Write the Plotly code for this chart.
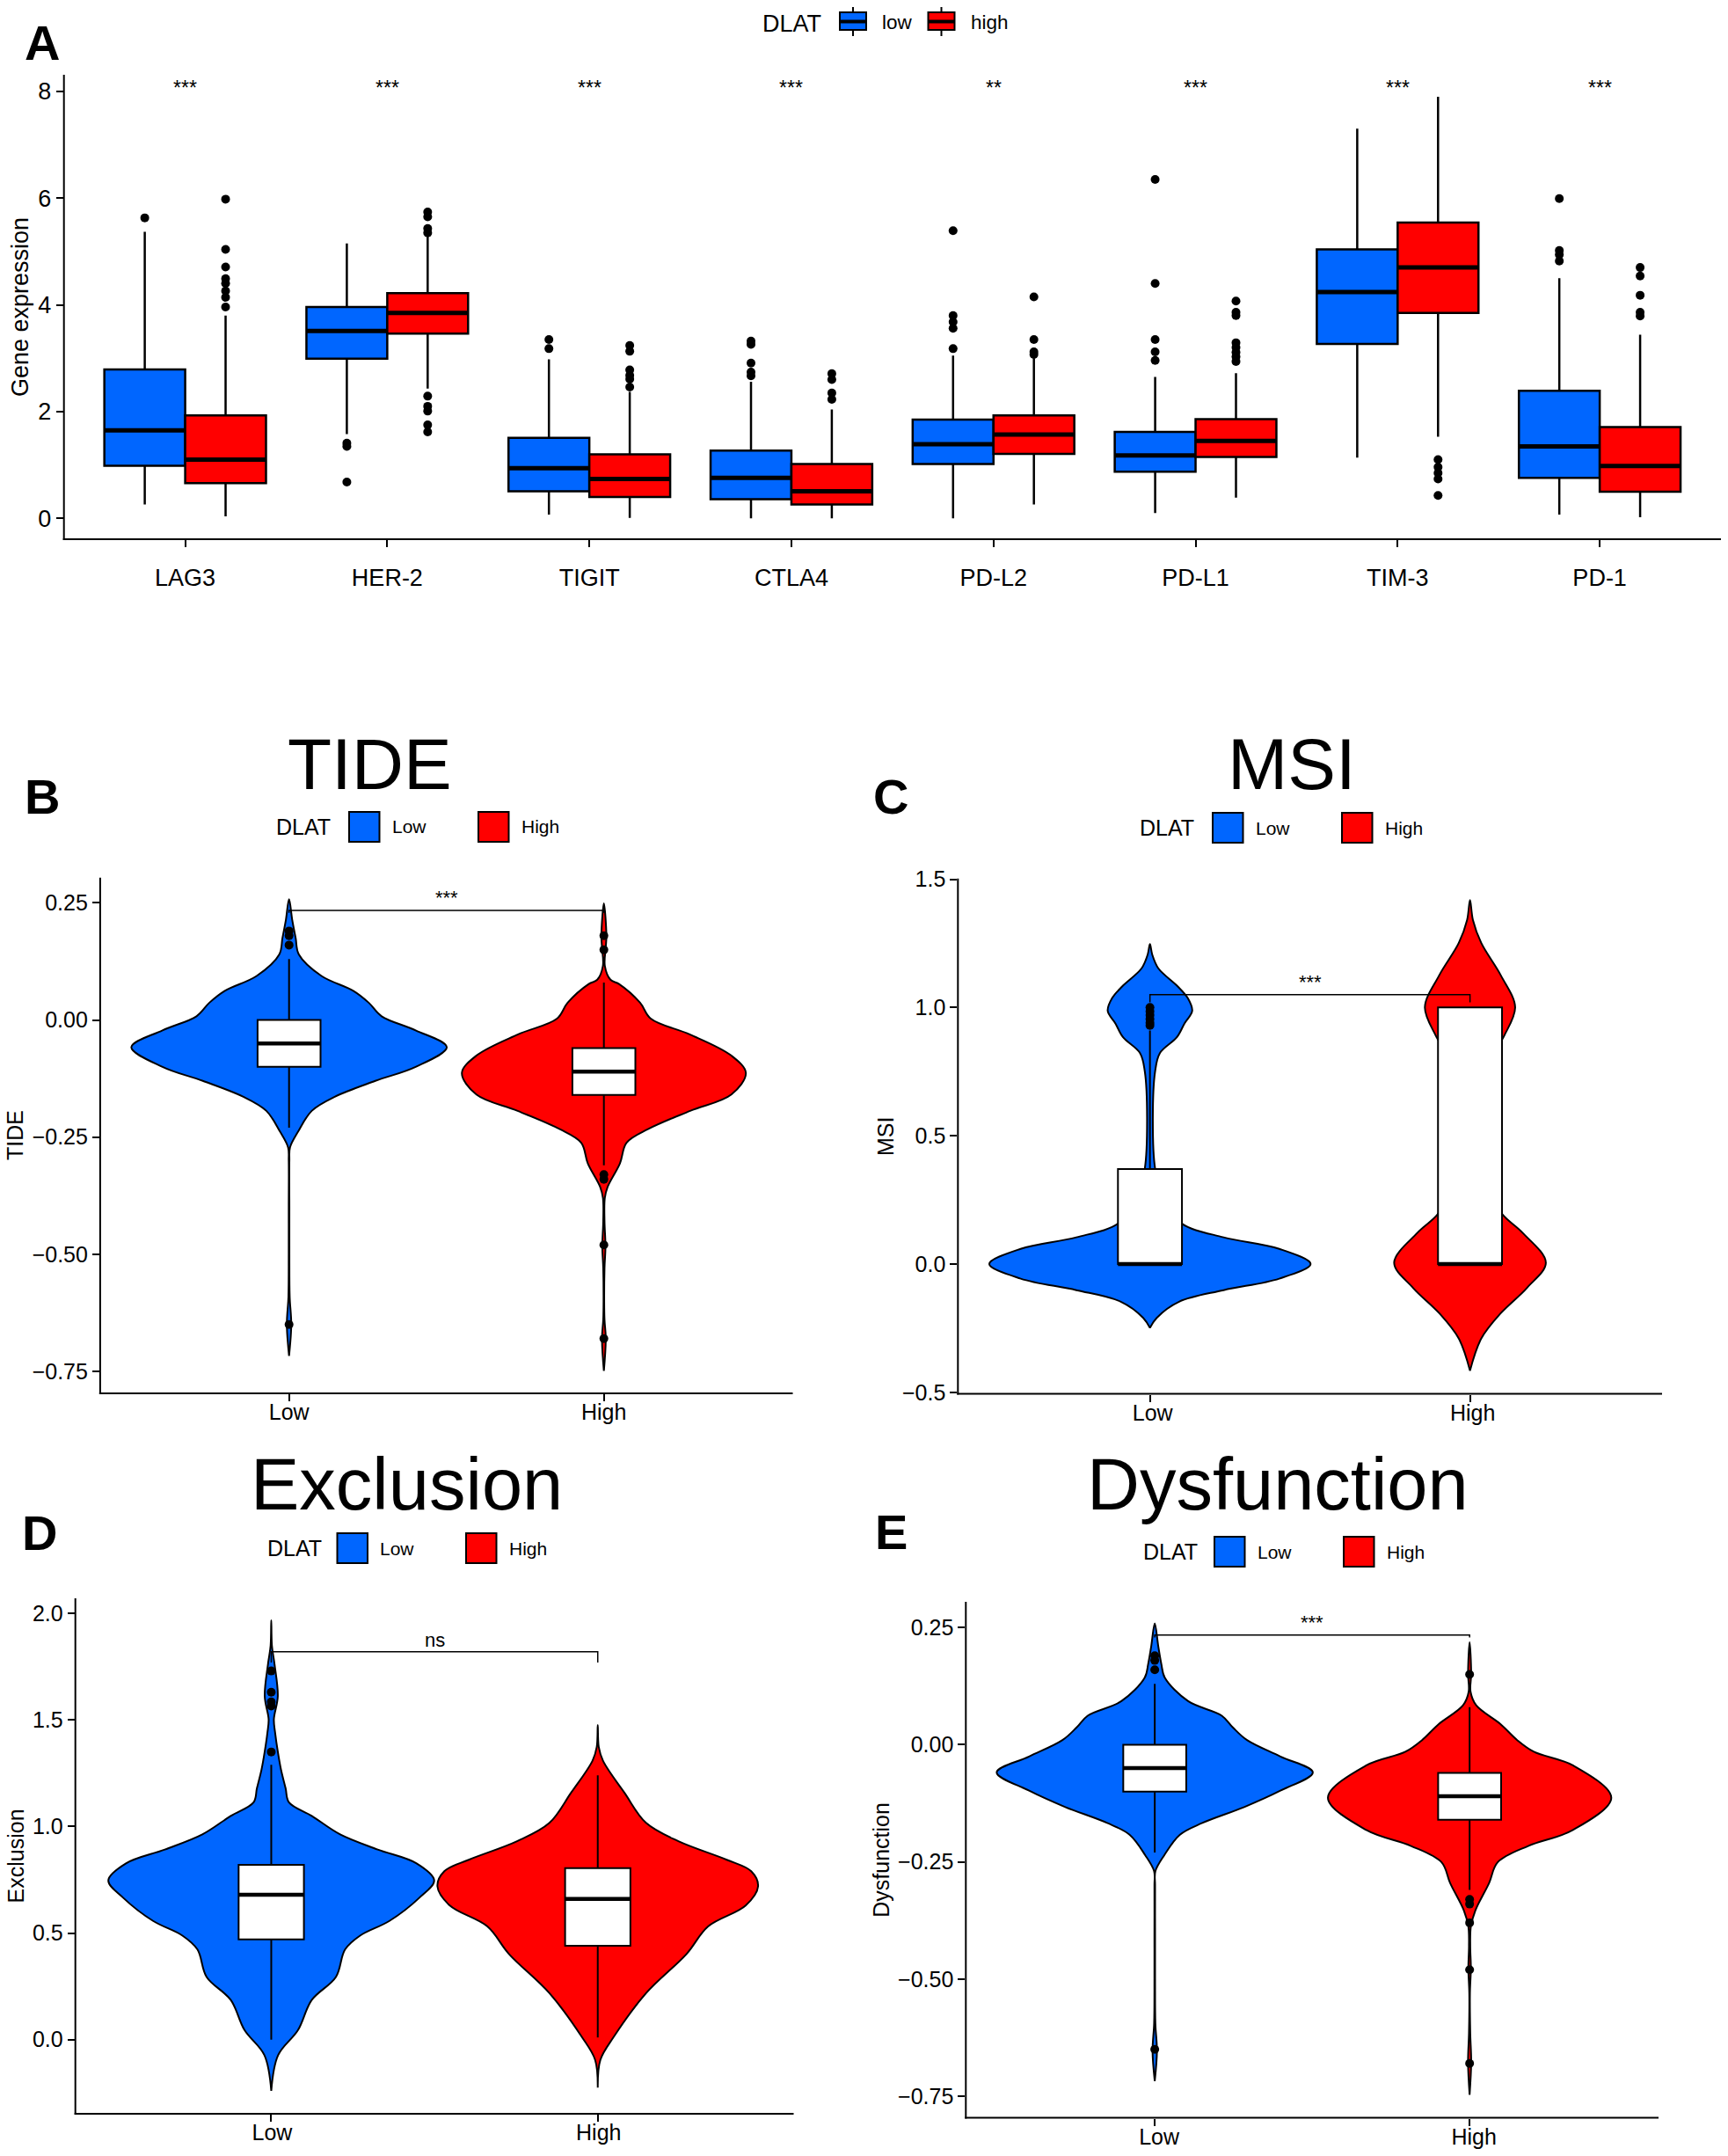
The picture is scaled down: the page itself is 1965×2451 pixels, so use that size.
import plotly.graph_objects as go

WIDTH = 1965
HEIGHT = 2451
BLUE = "#0066FF"
RED = "#FF0000"
FONT = "Liberation Sans"

# ---------------- panel A ----------------
genes = ["LAG3", "HER-2", "TIGIT", "CTLA4", "PD-L2", "PD-L1", "TIM-3", "PD-1"]
gene_stars = ["***", "***", "***", "***", "**", "***", "***", "***"]

low_q1 = [0.985, 2.99, 0.51, 0.36, 1.02, 0.875, 3.27, 0.76]
low_median = [1.65, 3.51, 0.94, 0.76, 1.39, 1.18, 4.24, 1.35]
low_q3 = [2.79, 3.96, 1.51, 1.27, 1.85, 1.62, 5.04, 2.39]
low_lower = [0.26, 1.58, 0.07, 0.0, 0.0, 0.10, 1.14, 0.07]
low_upper = [5.37, 5.15, 2.98, 2.56, 3.05, 2.65, 7.30, 4.50]
low_outliers = [
    [5.63],
    [1.41, 1.35, 0.68],
    [3.35, 3.18],
    [3.32, 3.26, 2.91, 2.74, 2.67],
    [5.39, 3.80, 3.68, 3.56, 3.18],
    [6.35, 4.40, 3.35, 3.12, 2.96],
    [],
    [5.99, 5.02, 4.94, 4.82],
]

high_q1 = [0.66, 3.46, 0.40, 0.26, 1.21, 1.15, 3.85, 0.50]
high_median = [1.10, 3.85, 0.74, 0.51, 1.57, 1.45, 4.70, 0.98]
high_q3 = [1.93, 4.22, 1.20, 1.02, 1.93, 1.86, 5.54, 1.71]
high_lower = [0.04, 2.43, 0.01, 0.0, 0.26, 0.39, 1.53, 0.02]
high_upper = [3.80, 5.29, 2.37, 2.04, 3.00, 2.72, 7.90, 3.44]
high_outliers = [
    [5.98, 5.04, 4.71, 4.49, 4.40, 4.26, 4.14, 3.96],
    [5.74, 5.65, 5.43, 5.35, 2.29, 2.10, 2.01, 1.75, 1.62],
    [3.24, 3.13, 2.78, 2.68, 2.61, 2.46],
    [2.71, 2.60, 2.35, 2.23],
    [4.15, 3.35, 3.12, 3.07],
    [4.07, 3.86, 3.80, 3.29, 3.20, 3.11, 3.03, 2.94],
    [1.10, 0.96, 0.85, 0.74, 0.43],
    [4.70, 4.54, 4.18, 3.86, 3.79],
]

# ---------------- violin outlines: level, half width ----------------
tide_low_y = [0.258, 0.214, 0.175, 0.140, 0.094, 0.062, 0.037, 0.008, -0.022, -0.058, -0.100, -0.130, -0.164,
              -0.194, -0.238, -0.272, -0.300, -0.400, -0.500, -0.591, -0.650, -0.717]
tide_low_w = [0, 0.010, 0.021, 0.031, 0.103, 0.205, 0.253, 0.294, 0.402, 0.501, 0.402, 0.274, 0.145,
              0.072, 0.029, 0.003, 0.001, 0.001, 0.001, 0.002, 0.007, 0]
tide_high_y = [0.249, 0.180, 0.155, 0.116, 0.086, 0.077, 0.037, 0.003, -0.031, -0.076, -0.113, -0.159, -0.194,
               -0.233, -0.262, -0.306, -0.356, -0.380, -0.430, -0.483, -0.530, -0.601, -0.640, -0.680, -0.749]
tide_high_w = [0, 0.008, 0.006, 0.003, 0.021, 0.048, 0.115, 0.149, 0.274, 0.405, 0.451, 0.405, 0.274,
               0.140, 0.072, 0.051, 0.012, 0.003, 0.002, 0.005, 0.002, 0.001, 0.002, 0.006, 0]

msi_low_y = [1.247, 1.207, 1.153, 1.082, 1.037, 0.987, 0.938, 0.884, 0.822, 0.750, 0.570, 0.373, 0.248,
             0.158, 0.104, 0.059, 0, -0.057, -0.102, -0.147, -0.210, -0.249]
msi_low_w = [0, 0.007, 0.026, 0.087, 0.118, 0.132, 0.108, 0.084, 0.031, 0.016, 0.009, 0.016, 0.044,
             0.099, 0.230, 0.404, 0.502, 0.404, 0.230, 0.091, 0.021, 0]
msi_high_y = [1.419, 1.342, 1.252, 1.126, 1.001, 0.893, 0.866, 0.750, 0.481, 0.301, 0.194, 0.122, 0.005,
              -0.093, -0.192, -0.291, -0.416]
msi_high_w = [0, 0.009, 0.035, 0.096, 0.141, 0.108, 0.096, 0.044, 0.021, 0.052, 0.101, 0.164, 0.237,
              0.178, 0.096, 0.035, 0]

excl_low_y = [1.968, 1.849, 1.762, 1.611, 1.503, 1.438, 1.352, 1.266, 1.179, 1.114, 1.050, 0.963, 0.892,
              0.827, 0.747, 0.665, 0.557, 0.488, 0.423, 0.294, 0.186, 0.045, -0.073, -0.240]
excl_low_w = [0, 0.002, 0.010, 0.020, 0.008, 0.012, 0.020, 0.030, 0.044, 0.054, 0.124, 0.211, 0.326,
              0.445, 0.499, 0.453, 0.362, 0.272, 0.226, 0.198, 0.124, 0.082, 0.021, 0]
excl_high_y = [1.477, 1.374, 1.309, 1.158, 1.017, 0.931, 0.844, 0.790, 0.719, 0.629, 0.531, 0.402, 0.218,
               0.013, -0.095, -0.225]
excl_high_w = [0, 0.003, 0.016, 0.082, 0.148, 0.247, 0.395, 0.470, 0.491, 0.453, 0.338, 0.272, 0.148,
               0.049, 0.008, 0]

dysf_low_y = [0.259, 0.211, 0.172, 0.143, 0.093, 0.062, 0.037, 0.010, -0.025, -0.059, -0.098, -0.133, -0.167,
              -0.192, -0.236, -0.270, -0.300, -0.400, -0.500, -0.595, -0.654, -0.718]
dysf_low_w = [0, 0.011, 0.021, 0.032, 0.106, 0.213, 0.248, 0.293, 0.399, 0.502, 0.399, 0.284, 0.151,
              0.080, 0.030, 0.002, 0.001, 0.001, 0.001, 0.002, 0.007, 0]
dysf_high_y = [0.219, 0.152, 0.113, 0.084, 0.044, 0.010, -0.015, -0.044, -0.113, -0.182, -0.216, -0.251,
               -0.295, -0.354, -0.388, -0.430, -0.477, -0.530, -0.615, -0.678, -0.747]
dysf_high_w = [0, 0.005, 0.003, 0.021, 0.098, 0.151, 0.204, 0.328, 0.450, 0.328, 0.186, 0.089,
               0.062, 0.018, 0.004, 0.002, 0.004, 0.001, 0.002, 0.005, 0]

# box stats per panel: q1, median, q3, lower whisker, upper whisker
tide_low_box = [-0.10, -0.05, 0.0, -0.23, 0.13]
tide_high_box = [-0.16, -0.11, -0.06, -0.31, 0.08]
msi_low_box = [0.0, 0.0, 0.37, 0.0, 0.91]
msi_high_box = [0.0, 0.0, 1.0, 0.0, 1.0]
excl_low_box = [0.47, 0.68, 0.82, 0.0, 1.29]
excl_high_box = [0.44, 0.66, 0.805, 0.01, 1.24]
dysf_low_box = [-0.10, -0.05, 0.0, -0.23, 0.13]
dysf_high_box = [-0.16, -0.11, -0.06, -0.31, 0.08]

tide_low_out = [0.19, 0.18, 0.16, -0.65]
tide_high_out = [0.18, 0.15, -0.33, -0.34, -0.48, -0.68]
msi_low_out = [1.0, 0.985, 0.97, 0.955, 0.94, 0.93]
msi_high_out = []
excl_low_out = [1.73, 1.63, 1.585, 1.565, 1.35]
excl_high_out = []
dysf_low_out = [0.19, 0.18, 0.16, -0.65]
dysf_high_out = [0.15, -0.33, -0.34, -0.38, -0.48, -0.68]


def px_x(x):
    return x / WIDTH


def px_y(y):
    return 1 - y / HEIGHT


fig = go.Figure()
annotations = []
shapes = []


def add_label(x, y, text, size, bold=False, angle=0):
    annotations.append(dict(
        x=px_x(x), y=px_y(y), xref="paper", yref="paper", text=f"<b>{text}</b>" if bold else text,
        showarrow=False, xanchor="center", yanchor="middle", textangle=angle,
        font=dict(family=FONT, size=size, color="black"),
    ))


def add_rect(x0, x1, y0, y1, fill):
    shapes.append(dict(type="rect", xref="paper", yref="paper", x0=px_x(x0), x1=px_x(x1), y0=px_y(y0), y1=px_y(y1),
                       fillcolor=fill, line=dict(color="black", width=2)))


def add_seg(x0, x1, y0, y1, width):
    shapes.append(dict(type="line", xref="paper", yref="paper", x0=px_x(x0), x1=px_x(x1), y0=px_y(y0), y1=px_y(y1),
                       line=dict(color="black", width=width)))


def set_axes(n, left, right, top, bottom, xrange, yrange, xvals, xlabels, yvals, ysize, yfmt, xstand, xshift=0):
    xname = "xaxis" if n == 1 else f"xaxis{n}"
    yname = "yaxis" if n == 1 else f"yaxis{n}"
    # zorder hides the native axis lines, so they are drawn as shapes
    axis = dict(showline=False, ticks="outside", ticklen=8, tickwidth=2, tickcolor="black", showgrid=False,
                zeroline=False, color="black", automargin=False)
    fig.update_layout({
        xname: dict(axis, domain=[px_x(left), px_x(right)], range=xrange, tickvals=xvals, ticktext=xlabels,
                    tickfont=dict(family=FONT, size=ysize), anchor=f"y{n if n > 1 else ''}",
                    ticklabelstandoff=xstand, ticklabelshift=xshift),
        yname: dict(axis, domain=[px_y(bottom), px_y(top)], range=yrange, tickvals=yvals, tickformat=yfmt,
                    tickfont=dict(family=FONT, size=ysize), anchor=f"x{n if n > 1 else ''}"),
    })
    add_seg(left, left, top, bottom + 1, 2)
    add_seg(left - 1, right, bottom, bottom, 2)


def add_box(n, pos, width, stats, fill, line, median_line):
    xa = "x" if n == 1 else f"x{n}"
    ya = "y" if n == 1 else f"y{n}"
    fig.add_trace(go.Box(
        x=[pos], q1=[stats[0]], median=[stats[1]], q3=[stats[2]], lowerfence=[stats[3]], upperfence=[stats[4]],
        width=width, whiskerwidth=0, fillcolor=fill, line=dict(color="black", width=line), boxpoints=False,
        xaxis=xa, yaxis=ya, showlegend=False, zorder=1,
    ))
    fig.add_trace(go.Scatter(
        x=[pos - width / 2, pos + width / 2], y=[stats[1], stats[1]], mode="lines",
        line=dict(color="black", width=median_line), xaxis=xa, yaxis=ya, showlegend=False, zorder=2,
    ))


def add_points(n, pos, vals):
    if len(vals) == 0:
        return
    fig.add_trace(go.Scatter(
        x=[pos] * len(vals), y=vals, mode="markers", marker=dict(color="black", size=10),
        xaxis="x" if n == 1 else f"x{n}", yaxis="y" if n == 1 else f"y{n}", showlegend=False, zorder=3,
    ))


def add_violin(n, pos, ys, ws, color):
    x = [pos - w for w in ws] + [pos + w for w in reversed(ws)]
    y = list(ys) + list(reversed(ys))
    fig.add_trace(go.Scatter(
        x=x, y=y, mode="lines", fill="toself", fillcolor=color,
        line=dict(color="black", width=2, shape="spline", smoothing=1.0),
        xaxis=f"x{n}", yaxis=f"y{n}", showlegend=False, zorder=0,
    ))


def add_bracket(n, top, tip, text):
    fig.add_trace(go.Scatter(
        x=[1, 1, 2, 2], y=[tip, top, top, tip], mode="lines", line=dict(color="black", width=1.5),
        xaxis=f"x{n}", yaxis=f"y{n}", showlegend=False, zorder=1,
    ))
    fig.add_annotation(x=1.5, y=top, xref=f"x{n}", yref=f"y{n}", text=text, showarrow=False, yanchor="bottom",
                       yshift=0 if text != "ns" else -1, font=dict(family=FONT, size=22, color="black"))


def add_legend(title_x, y, blue_x, low_x, red_x, high_x):
    add_label(title_x, y, "DLAT", 25)
    add_rect(blue_x, blue_x + 34.5, y - 17, y + 17, BLUE)
    add_label(low_x, y, "Low", 21)
    add_rect(red_x, red_x + 34.5, y - 17, y + 17, RED)
    add_label(high_x, y, "High", 21)


def add_panel(n, frame, yrange, yvals, yfmt, low, high, bracket, xshift):
    left, right, top, bottom = frame
    set_axes(n, left, right, top, bottom, [0.4, 2.6], yrange, [1, 2], ["Low", "High"], yvals, 25, yfmt, -9, xshift)
    add_violin(n, 1, low[0], low[1], BLUE)
    add_violin(n, 2, high[0], high[1], RED)
    add_box(n, 1, 0.2, low[2], "white", 2, 4.5)
    add_box(n, 2, 0.2, high[2], "white", 2, 4.5)
    add_points(n, 1, low[3])
    add_points(n, 2, high[3])
    add_bracket(n, bracket[0], bracket[1], bracket[2])


# panel A
centers = list(range(1, len(genes) + 1))
set_axes(1, 72.7, 1957, 85, 613, [0.4, 8.6], [-0.39, 8.31], centers, genes, [0, 2, 4, 6, 8], 27, "d", 12)
for i, c in enumerate(centers):
    add_box(1, c - 0.2, 0.4, [low_q1[i], low_median[i], low_q3[i], low_lower[i], low_upper[i]], BLUE, 2.5, 5)
    add_box(1, c + 0.2, 0.4, [high_q1[i], high_median[i], high_q3[i], high_lower[i], high_upper[i]], RED, 2.5, 5)
    add_points(1, c - 0.2, low_outliers[i])
    add_points(1, c + 0.2, high_outliers[i])
    fig.add_annotation(x=c, y=8.1, xref="x", yref="y", text=gene_stars[i], showarrow=False, yanchor="middle",
                       yshift=-2, font=dict(family=FONT, size=23, color="black"))

add_label(900, 27, "DLAT", 27)
add_seg(970, 970, 8, 41, 2)
add_rect(955, 985, 14, 34, BLUE)
add_seg(955, 985, 24.5, 24.5, 4)
add_label(1020, 25, "low", 22.5)
add_seg(1070.5, 1070.5, 8, 41, 2)
add_rect(1055.5, 1085.5, 14, 34, RED)
add_seg(1055.5, 1085.5, 24.5, 24.5, 4)
add_label(1125, 25, "high", 22.5)

# panels B to E
add_panel(2, (113.9, 901.5, 997.7, 1584), [-0.797, 0.304], [-0.75, -0.5, -0.25, 0, 0.25], ".2f",
          (tide_low_y, tide_low_w, tide_low_box, tide_low_out),
          (tide_high_y, tide_high_w, tide_high_box, tide_high_out),
          (0.234, 0.229, "***"), 0)
add_panel(3, (1089.3, 1890, 998.7, 1584.5), [-0.506, 1.503], [-0.5, 0, 0.5, 1.0, 1.5], ".1f",
          (msi_low_y, msi_low_w, msi_low_box, msi_low_out),
          (msi_high_y, msi_high_w, msi_high_box, msi_high_out),
          (1.05, 1.02, "***"), 3)
add_panel(4, (85.7, 902.5, 1817, 2403), [-0.348, 2.071], [0, 0.5, 1.0, 1.5, 2.0], ".1f",
          (excl_low_y, excl_low_w, excl_low_box, excl_low_out),
          (excl_high_y, excl_high_w, excl_high_box, excl_high_out),
          (1.82, 1.77, "ns"), 1)
add_panel(5, (1098.3, 1886, 1821, 2407.5), [-0.796, 0.305], [-0.75, -0.5, -0.25, 0, 0.25], ".2f",
          (dysf_low_y, dysf_low_w, dysf_low_box, dysf_low_out),
          (dysf_high_y, dysf_high_w, dysf_high_box, dysf_high_out),
          (0.234, 0.229, "***"), 5)

add_legend(345, 940, 397, 465, 544, 614)
add_legend(1327, 941, 1379, 1447, 1526, 1596)
add_legend(335, 1760, 383.5, 451, 530, 600)
add_legend(1331, 1764, 1381, 1449.5, 1528, 1598)

add_label(23, 349, "Gene expression", 27, angle=-90)
add_label(17, 1291, "TIDE", 25, angle=-90)
add_label(1007, 1292, "MSI", 25, angle=-90)
add_label(18.4, 2110, "Exclusion", 25, angle=-90)
add_label(1001.7, 2114, "Dysfunction", 25, angle=-90)

add_label(420, 868, "TIDE", 82)
add_label(1469, 868, "MSI", 82)
add_label(462.5, 1687, "Exclusion", 83)
add_label(1453, 1687, "Dysfunction", 83)

add_label(47.5, 49, "A", 56, bold=True)
add_label(47.7, 905, "B", 56, bold=True)
add_label(1012.8, 905, "C", 56, bold=True)
add_label(45.3, 1742, "D", 56, bold=True)
add_label(1013.5, 1741, "E", 56, bold=True)

fig.update_layout(
    width=WIDTH, height=HEIGHT, margin=dict(l=0, r=0, t=0, b=0), paper_bgcolor="white", plot_bgcolor="white",
    boxmode="overlay", showlegend=False, font=dict(family=FONT, color="black"),
)
for a in annotations:
    fig.add_annotation(a)
for s in shapes:
    fig.add_shape(s)

# the page has a default body margin that would shift the whole figure
fig.write_html("out.html", config={"displayModeBar": False}, post_script="document.body.style.margin = '0';")
